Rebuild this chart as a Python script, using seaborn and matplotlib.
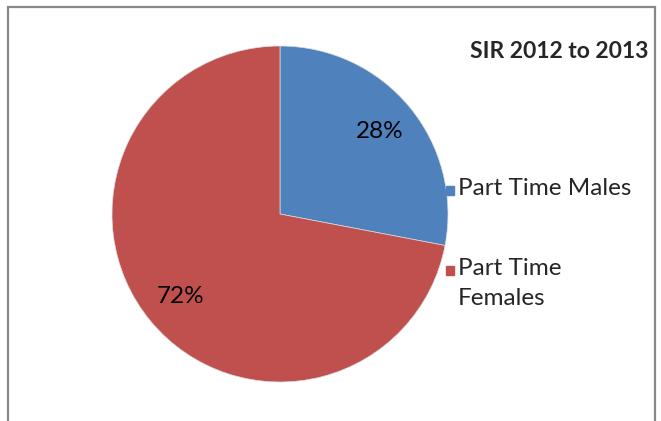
import matplotlib
matplotlib.use("Agg")
import matplotlib.pyplot as plt
import seaborn as sns
from matplotlib.patches import Rectangle

# data
labels = ["Part Time Males", "Part Time\nFemales"]
shares = [28, 72]
colors = ["#4F81BD", "#C0504D"]
title = "SIR 2012 to 2013"

sns.set_theme(style="white")
plt.rcParams["font.family"] = ["Lato", "DejaVu Sans"]

W, H = 661, 421
fig = plt.figure(figsize=(W / 100, H / 100), dpi=100)
fig.patch.set_facecolor("white")

# outer chart border (runs off the bottom)
fig.patches.append(Rectangle((7.5 / W, -0.05), (655 - 7.5) / W, 1.05 - 7.5 / H,
                             transform=fig.transFigure, fill=False,
                             edgecolor="#888888", lw=1.6))

# pie: centre (280, 214), radius 168 px
cx, cy, r = 280, 214, 168
ax = fig.add_axes([(cx - r) / W, (H - cy - r) / H, 2 * r / W, 2 * r / H])
wedges, _, autotexts = ax.pie(shares, colors=colors, startangle=90, counterclock=False,
                              autopct="%1.0f%%", pctdistance=0.77, radius=1,
                              wedgeprops=dict(linewidth=0.5, edgecolor="#dddddd"),
                              textprops=dict(fontsize=17.5, color="black"))
ax.set_xlim(-1, 1)
ax.set_ylim(-1, 1)
ax.axis("off")

fig.text(648 / W, 1 - 52 / H, title, ha="right", va="center",
         fontsize=16.5, fontweight="bold")

# legend drawn by hand so the marker sits on the first text line
leg_y = [190, 270]
for lab, col, y in zip(labels, colors, leg_y):
    fig.patches.append(Rectangle((446 / W, 1 - (y + 4.5) / H), 8 / W, 9 / H,
                                 transform=fig.transFigure, color=col))
    fig.text(458 / W, 1 - (y - 12) / H, lab, ha="left", va="top",
             fontsize=17.5, linespacing=1.55)

fig.savefig("out.png", dpi=100)
